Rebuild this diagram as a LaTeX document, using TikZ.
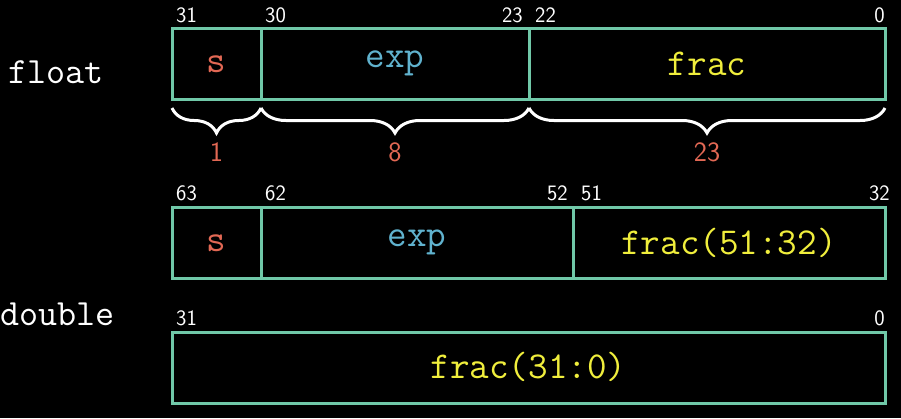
\documentclass[tikz,border=0pt]{standalone}
\usetikzlibrary{positioning,decorations.pathreplacing}

\definecolor{boxgreen}{RGB}{112,200,168}
\definecolor{signred}{RGB}{226,104,84}
\definecolor{expblue}{RGB}{96,178,206}
\definecolor{fracyellow}{RGB}{240,238,60}

\begin{document}
\begin{tikzpicture}[x=1pt,y=-1pt,
    field/.style={rectangle,draw=boxgreen,line width=3pt,outer sep=0pt,inner sep=0pt,
                  minimum height=71pt,text height=18pt,text depth=0pt,
                  font=\ttfamily\fontsize{38}{38}\selectfont},
    bitnum/.style={inner sep=0pt,text=white,font=\sffamily\fontsize{22}{22}\selectfont},
    width/.style={inner sep=0pt,text=signred,font=\sffamily\fontsize{28}{28}\selectfont},
    kind/.style={inner sep=0pt,text=white,font=\ttfamily\fontsize{37}{37}\selectfont},
    brace/.style={draw=white,line width=3pt,decorate,
                  decoration={brace,mirror,amplitude=25pt}}]

  \fill[black] (0,0) rectangle (901,418);
  \useasboundingbox (0,0) rectangle (901,418);

  % float
  \node[field,minimum width=89pt,anchor=north west,text=signred] (fs) at (172,28) {s};
  \node[field,minimum width=268pt,right=0pt of fs,text=expblue] (fe) {\raisebox{5pt}{exp}};
  \node[field,minimum width=356pt,right=0pt of fe,text=fracyellow] (ff) {\raisebox{-3pt}{frac}};

  \node[kind,anchor=base west] (float) at (8,83) {float};

  \node[bitnum,anchor=base west] at ([xshift=4pt,yshift=6pt]fs.north west) {31};
  \node[bitnum,anchor=base west] at ([xshift=4pt,yshift=6pt]fe.north west) {30};
  \node[bitnum,anchor=base east] at ([xshift=-6pt,yshift=6pt]fe.north east) {23};
  \node[bitnum,anchor=base west] at ([xshift=6pt,yshift=6pt]ff.north west) {22};
  \node[bitnum,anchor=base east] at ([yshift=6pt]ff.north east) {0};

  \draw[brace] ([yshift=-9pt]fs.south west) -- ([yshift=-9pt]fs.south east);
  \draw[brace] ([yshift=-9pt]fe.south west) -- ([yshift=-9pt]fe.south east);
  \draw[brace] ([yshift=-9pt]ff.south west) -- ([yshift=-9pt]ff.south east);

  \node[width,anchor=base] at ([yshift=-62pt]fs.south) {1};
  \node[width,anchor=base] at ([yshift=-62pt]fe.south) {8};
  \node[width,anchor=base] at ([yshift=-62pt]ff.south) {23};

  % double, upper word
  \node[field,minimum width=89pt,anchor=north west,text=signred] (ds) at (172,207) {s};
  \node[field,minimum width=312pt,right=0pt of ds,text=expblue] (de) {\raisebox{5pt}{exp}};
  \node[field,minimum width=312pt,right=0pt of de,text=fracyellow] (dh) {\raisebox{-3pt}{frac(51:32)}};

  \node[bitnum,anchor=base west] at ([xshift=4pt,yshift=7pt]ds.north west) {63};
  \node[bitnum,anchor=base west] at ([xshift=4pt,yshift=7pt]de.north west) {62};
  \node[bitnum,anchor=base east] at ([xshift=-5pt,yshift=7pt]de.north east) {52};
  \node[bitnum,anchor=base west] at ([xshift=8pt,yshift=7pt]dh.north west) {51};
  \node[bitnum,anchor=base east] at ([xshift=5pt,yshift=7pt]dh.north east) {32};

  % double, lower word
  \node[field,minimum width=713pt,anchor=north west,text=fracyellow] (dl) at (172,332) {\raisebox{-2pt}{frac(31:0)}};

  \node[kind,anchor=base west] (double) at (0,325) {double};

  \node[bitnum,anchor=base west] at ([xshift=4pt,yshift=7pt]dl.north west) {31};
  \node[bitnum,anchor=base east] at ([yshift=7pt]dl.north east) {0};
\end{tikzpicture}
\end{document}
